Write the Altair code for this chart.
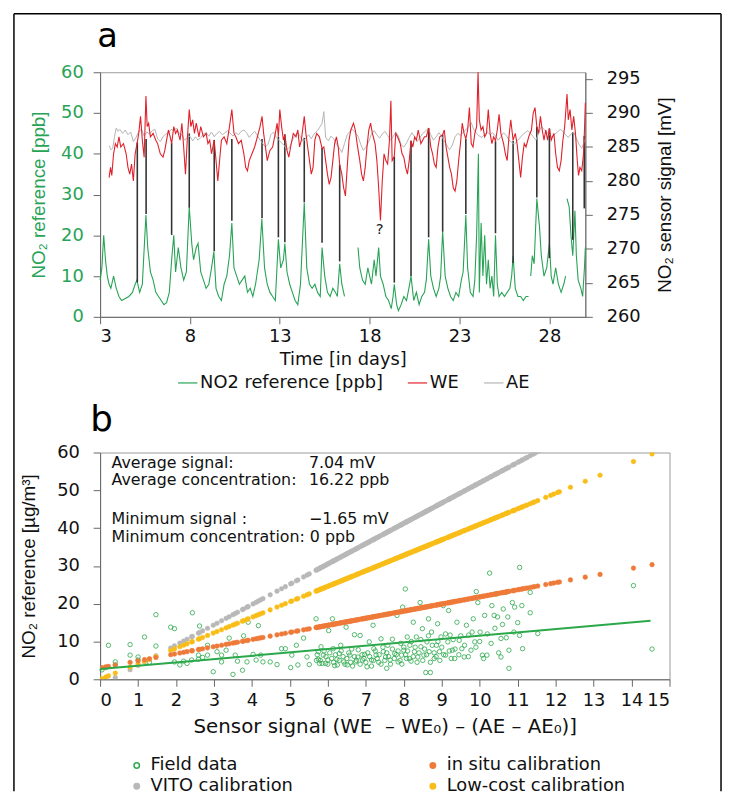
import altair as alt
import pandas as pd

FONT = "DejaVu Sans"
VFONT = "Liberation Sans"
GREEN_A = "#27a356"
RED = "#e0202a"
GRAY_A = "#b4b4b4"
GREEN_B = "#2aa84a"
ORANGE = "#ee7a3a"
YELLOW = "#f9bd19"
GRAY_B = "#b8b8b8"

# ---------------- panel a data ----------------
# (day, ppb); None marks a gap in the reference record
no2_points = [
    (3.0, 9), (3.1, 12), (3.2, 20), (3.3, 14), (3.4, 10), (3.5, 8), (3.6, 7), (3.75, 10), (3.9, 7),
    (4.05, 5), (4.2, 4), (4.4, 4.5), (4.6, 5), (4.8, 6), (4.95, 8), (5.05, 9), (5.2, 6), (5.35, 8),
    (5.55, 25), (5.65, 17), (5.8, 11), (5.95, 9), (6.1, 6), (6.25, 5), (6.4, 4), (6.55, 3), (6.7, 3.5),
    (6.85, 6), (7.0, 15), (7.1, 20), (7.2, 11), (7.35, 17), (7.5, 12), (7.65, 9), (7.8, 11), (7.96, 27),
    (8.1, 18), (8.2, 14), (8.35, 17), (8.45, 18), (8.6, 11), (8.75, 9), (8.9, 7), (9.05, 8), (9.2, 12),
    (9.33, 16), (9.45, 7), (9.6, 5), (9.75, 4), (9.9, 8), (10.05, 10), (10.2, 15), (10.33, 23), (10.45, 12),
    (10.6, 10), (10.75, 8), (10.9, 9), (11.05, 10), (11.2, 6), (11.35, 7), (11.5, 5), (11.65, 8), (11.85, 14),
    (12.0, 24), (12.15, 12), (12.3, 8), (12.45, 6), (12.6, 5), (12.75, 4), (12.92, 19), (13.05, 12),
    (13.2, 14), (13.28, 18), (13.4, 11), (13.55, 8), (13.7, 6), (13.85, 4), (14.0, 3), (14.15, 8),
    (14.36, 28), (14.5, 12), (14.65, 8), (14.8, 7), (14.95, 8), (15.1, 6), (15.25, 5), (15.35, 17),
    (15.5, 10), (15.65, 6), (15.8, 5), (15.95, 7), (16.1, 6), (16.2, 5), (16.33, 13), (16.45, 8), (16.6, 5),
    None,
    (17.35, 17), (17.45, 12), (17.6, 9), (17.75, 8), (17.9, 12), (18.0, 10), (18.1, 8), (18.25, 14),
    (18.35, 10), (18.5, 17), (18.6, 10), (18.75, 8), (18.9, 5), (19.05, 4), (19.2, 2), (19.3, 5),
    (19.37, 8), (19.5, 3), (19.6, 1.5), (19.75, 3), (19.9, 5), (20.05, 4), (20.18, 7), (20.3, 10),
    (20.45, 4), (20.6, 6), (20.75, 3), (20.9, 5), (21.05, 6), (21.15, 9), (21.28, 19), (21.4, 10),
    (21.55, 7), (21.7, 5), (21.85, 7), (21.95, 10), (22.06, 21), (22.2, 10), (22.35, 7), (22.5, 5),
    (22.65, 4), (22.8, 6), (22.95, 5), (23.1, 9), (23.2, 11), (23.35, 25), (23.45, 12), (23.6, 6),
    (23.75, 5), (23.85, 9), (23.95, 20), (24.05, 40), (24.1, 6), (24.2, 23), (24.3, 10), (24.4, 20),
    (24.5, 8), (24.6, 14), (24.7, 7), (24.8, 10), (24.9, 5), (25.0, 20), (25.1, 8), (25.2, 5),
    (25.35, 6), (25.5, 5), (25.65, 6), (25.8, 7), (25.9, 10), (25.98, 15), (26.1, 7), (26.25, 5),
    (26.4, 5), (26.55, 4), (26.7, 5), (26.84, 5),
    None,
    (26.96, 10), (27.05, 15), (27.15, 13), (27.3, 29), (27.45, 22), (27.55, 15), (27.7, 10), (27.85, 12),
    (28.0, 18), (28.1, 10), (28.2, 8), (28.35, 12), (28.5, 8), (28.65, 6), (28.8, 8), (28.9, 10),
    None,
    (28.98, 29), (29.1, 27), (29.2, 20), (29.3, 15), (29.42, 26), (29.5, 15), (29.6, 9), (29.75, 7),
    (29.85, 5), (29.95, 12), (30.0, 17),
]

# (day, mV)
we_points = [
    (3.5, 280.5), (3.58, 282), (3.65, 280.8), (3.75, 284), (3.85, 285.5), (3.95, 285), (4.05, 286.5),
    (4.15, 285), (4.3, 285.5), (4.45, 284), (4.55, 282), (4.65, 281), (4.75, 282.5), (4.85, 280),
    (4.95, 284), (5.07, 285.7), (5.15, 287), (5.25, 289.5), (5.35, 286), (5.45, 283.5), (5.55, 292.5),
    (5.62, 288), (5.7, 288.5), (5.8, 286.5), (5.95, 287), (6.1, 286), (6.2, 285.5), (6.35, 284),
    (6.5, 283.5), (6.6, 284.5), (6.7, 286), (6.8, 287.5), (6.9, 286.5), (6.98, 285.5), (7.1, 288),
    (7.2, 287), (7.3, 287.5), (7.45, 286), (7.55, 288.5), (7.65, 285), (7.75, 281), (7.85, 286),
    (7.96, 290.5), (8.05, 288), (8.15, 289), (8.25, 287), (8.35, 288.5), (8.5, 286.5), (8.6, 288),
    (8.75, 286.5), (8.9, 287), (9.0, 285.5), (9.1, 286), (9.2, 284), (9.35, 286), (9.45, 283),
    (9.55, 280), (9.65, 283), (9.75, 286), (9.9, 286.5), (10.05, 285.5), (10.2, 288), (10.33, 290.5),
    (10.45, 287), (10.55, 286.5), (10.7, 285.5), (10.85, 286), (11.0, 284), (11.1, 282), (11.2, 281.5),
    (11.3, 283), (11.45, 284), (11.6, 285), (11.75, 286.5), (11.9, 288), (12.01, 289.5), (12.1, 287),
    (12.2, 285), (12.3, 283), (12.45, 284.5), (12.6, 285), (12.75, 287), (12.85, 288.5), (12.92, 286.5),
    (13.0, 290.5), (13.1, 288), (13.2, 286), (13.28, 286.8), (13.4, 284.5), (13.5, 283.5), (13.6, 285),
    (13.75, 287), (13.9, 286.5), (14.0, 287.5), (14.1, 285), (14.2, 286), (14.36, 289.5), (14.45, 287),
    (14.55, 285), (14.65, 283), (14.75, 281), (14.85, 282), (14.95, 286), (15.05, 287), (15.2, 286.5),
    (15.35, 284.8), (15.45, 285), (15.55, 283), (15.65, 281), (15.75, 279.5), (15.85, 280.5), (15.95, 283),
    (16.05, 285.5), (16.15, 286.5), (16.25, 285), (16.33, 282.4), (16.45, 281), (16.55, 279), (16.65, 277.8),
    (16.75, 282), (16.85, 286), (16.95, 287.5), (17.1, 288.5), (17.2, 287.5), (17.3, 285.5), (17.45, 283),
    (17.55, 281), (17.65, 280), (17.75, 282), (17.85, 285), (17.95, 287.5), (18.05, 288.5), (18.15, 287),
    (18.3, 285.5), (18.4, 283), (18.5, 279), (18.6, 274.2), (18.7, 280), (18.8, 284), (18.9, 283),
    (19.0, 282.5), (19.1, 286), (19.18, 291.8), (19.25, 283), (19.37, 283.6), (19.45, 287), (19.55, 286.5),
    (19.7, 285.5), (19.8, 284), (19.9, 283.5), (20.0, 282), (20.1, 281), (20.2, 283), (20.3, 285.9),
    (20.4, 285), (20.5, 286.5), (20.6, 286), (20.7, 287.5), (20.85, 285.5), (20.95, 286), (21.05, 286.5),
    (21.15, 286.5), (21.28, 287.8), (21.4, 285), (21.5, 284), (21.6, 282.5), (21.7, 282), (21.8, 285),
    (21.9, 286.5), (22.06, 286.8), (22.15, 287.5), (22.25, 285), (22.35, 283.5), (22.45, 282), (22.55, 281),
    (22.65, 279), (22.75, 278.5), (22.85, 280), (22.95, 283), (23.05, 285.5), (23.15, 288.5), (23.25, 287),
    (23.35, 286.2), (23.45, 287.5), (23.55, 290.8), (23.65, 285.5), (23.75, 285), (23.85, 287), (23.95, 288),
    (24.03, 296), (24.1, 289), (24.2, 287.5), (24.3, 288), (24.4, 286.5), (24.5, 287), (24.6, 290.5),
    (24.7, 287), (24.8, 285.5), (24.9, 286.5), (25.0, 285.9), (25.1, 287.5), (25.2, 289.8), (25.3, 287),
    (25.45, 285.5), (25.55, 284), (25.65, 283), (25.75, 286.5), (25.85, 289), (25.98, 286), (26.1, 287),
    (26.2, 285.5), (26.3, 283), (26.4, 280.5), (26.5, 283.5), (26.6, 285.5), (26.7, 285), (26.85, 286.5),
    (27.0, 287.5), (27.1, 290), (27.2, 290.8), (27.3, 288), (27.4, 287), (27.5, 289.5), (27.6, 287.5),
    (27.7, 286), (27.8, 287.5), (27.9, 286), (28.0, 287.7), (28.1, 286), (28.25, 287), (28.35, 284),
    (28.45, 282), (28.55, 281.5), (28.65, 283), (28.75, 286), (28.85, 288), (28.98, 292.8), (29.05, 289),
    (29.15, 290.5), (29.25, 287.5), (29.35, 289.5), (29.45, 287), (29.55, 283), (29.62, 280.8), (29.7, 282),
    (29.8, 281.5), (29.9, 284), (29.94, 286.6), (30.0, 291.5),
]

ae_points = [
    (3.5, 285.2), (3.6, 284.6), (3.7, 284.8), (3.8, 286.5), (3.9, 287.8), (4.0, 287.3), (4.1, 287.6),
    (4.25, 287.0), (4.4, 287.5), (4.55, 286.8), (4.7, 287.2), (4.85, 285.8), (5.0, 286.4), (5.15, 287.3),
    (5.3, 287.6), (5.45, 286.6), (5.6, 287.2), (5.75, 286.9), (5.9, 287.4), (6.05, 287.6), (6.2, 286.2),
    (6.35, 285.8), (6.5, 286.5), (6.65, 286.9), (6.8, 287.1), (6.95, 287.6), (7.1, 287.4), (7.25, 287.8),
    (7.4, 287.0), (7.55, 286.8), (7.7, 286.0), (7.85, 286.4), (8.0, 286.6), (8.15, 285.9), (8.3, 286.5),
    (8.45, 286.0), (8.6, 286.4), (8.75, 286.9), (8.9, 287.1), (9.05, 286.6), (9.2, 287.2), (9.35, 286.5),
    (9.5, 287.0), (9.65, 287.3), (9.8, 286.8), (9.95, 287.1), (10.1, 287.4), (10.25, 287.0), (10.4, 286.6),
    (10.55, 287.1), (10.7, 286.8), (10.85, 287.3), (11.0, 287.5), (11.15, 287.1), (11.3, 286.4),
    (11.45, 286.9), (11.6, 287.3), (11.75, 286.7), (11.9, 286.0), (12.05, 285.5), (12.2, 285.0),
    (12.35, 285.4), (12.5, 286.8), (12.65, 287.2), (12.8, 286.4), (12.95, 286.0), (13.1, 285.6),
    (13.25, 285.2), (13.4, 284.6), (13.55, 285.0), (13.7, 286.0), (13.85, 286.8), (14.0, 287.1),
    (14.15, 286.5), (14.3, 285.8), (14.45, 286.3), (14.6, 286.8), (14.75, 286.2), (14.9, 286.9),
    (15.05, 287.3), (15.2, 287.8), (15.35, 288.5), (15.45, 290.2), (15.55, 286.4), (15.7, 285.9),
    (15.85, 286.6), (16.0, 286.2), (16.15, 285.4), (16.3, 284.9), (16.45, 284.2), (16.6, 285.5),
    (16.75, 286.8), (16.9, 287.3), (17.05, 287.6), (17.2, 287.1), (17.35, 286.6), (17.5, 285.4),
    (17.65, 284.5), (17.8, 285.0), (17.95, 285.8), (18.1, 286.9), (18.25, 287.4), (18.4, 286.8),
    (18.55, 286.3), (18.7, 286.9), (18.85, 287.3), (19.0, 286.7), (19.15, 286.0), (19.3, 286.5),
    (19.45, 287.2), (19.6, 286.6), (19.75, 285.3), (19.9, 285.0), (20.05, 285.6), (20.2, 286.4),
    (20.35, 287.1), (20.5, 286.5), (20.65, 285.8), (20.8, 286.4), (20.95, 287.0), (21.1, 287.3),
    (21.25, 287.7), (21.4, 286.8), (21.55, 286.0), (21.7, 286.5), (21.85, 287.1), (22.0, 286.6),
    (22.15, 285.9), (22.3, 285.2), (22.45, 284.6), (22.6, 285.3), (22.75, 286.5), (22.9, 287.0),
    (23.05, 286.7), (23.2, 287.2), (23.35, 287.5), (23.5, 288.0), (23.65, 288.6), (23.8, 287.5),
    (23.95, 287.0), (24.1, 286.6), (24.25, 286.4), (24.4, 286.9), (24.55, 287.2), (24.7, 286.8),
    (24.85, 287.1), (25.0, 286.6), (25.15, 286.0), (25.3, 286.5), (25.45, 287.1), (25.6, 286.7),
    (25.75, 286.0), (25.9, 285.7), (26.05, 285.4), (26.2, 285.9), (26.35, 286.3), (26.5, 286.8),
    (26.65, 287.1), (26.8, 287.4), (26.95, 287.0), (27.1, 286.5), (27.25, 286.0), (27.4, 287.0),
    (27.55, 288.0), (27.7, 287.6), (27.85, 287.2), (28.0, 286.8), (28.15, 286.4), (28.3, 286.9),
    (28.45, 287.2), (28.6, 287.6), (28.75, 287.3), (28.9, 286.8), (29.05, 286.4), (29.2, 286.9),
    (29.35, 287.2), (29.5, 286.3), (29.65, 285.4), (29.8, 284.8), (29.9, 285.5), (30.0, 286.2),
]

# black connectors (day, top ppb, bottom ppb)
link_day = [5.07, 5.56, 6.98, 7.96, 9.35, 10.33, 12.01, 12.92, 13.28, 14.36, 15.35, 16.33,
            19.37, 20.3, 21.28, 22.06, 23.35, 25.0, 25.98, 27.3, 28.0, 29.3, 29.94]
link_top = [42.8, 43.6, 42.6, 45.0, 43.4, 43.6, 43.6, 44.2, 44.8, 43.9, 41.4, 37.3,
            39.3, 43.2, 46.3, 44.7, 43.6, 43.1, 43.2, 46.6, 46.2, 45.3, 44.4]
link_bottom = [8.5, 25.2, 20.1, 26.8, 16.1, 23.6, 24.2, 19.5, 18.3, 28.1, 18.2, 13.6,
               8.4, 10.0, 19.5, 20.9, 25.2, 20.5, 13.2, 29.3, 14.4, 18.9, 26.6]

series_a = ["NO2 reference [ppb]", "WE", "AE"]
colors_a = [GREEN_A, RED, GRAY_A]

# ---------------- panel b data ----------------
field_points = [
    (0.05, 2.5), (0.15, 3.1), (0.22, 9.0), (0.4, 4.6), (0.4, 3.8), (0.79, 9.2), (0.79, 6.4), (1.0, 5.9),
    (1.0, 5.1), (1.17, 11.2), (1.3, 4.5), (1.47, 17.1), (1.47, 8.8), (1.86, 13.8), (1.96, 13.4), (1.96, 4.6),
    (2.1, 3.8), (2.2, 4.8), (2.29, 4.2), (2.41, 5.1), (2.43, 17.6), (2.59, 6.4), (2.59, 5.3), (2.62, 14.1),
    (2.7, 5.8), (2.83, 9.0), (2.83, 6.4), (2.98, 2.0), (3.08, 7.3), (3.2, 6.4), (3.2, 4.6), (3.32, 7.7),
    (3.4, 10.9), (3.5, 1.3), (3.56, 6.4), (3.62, 4.8), (3.75, 2.4), (3.78, 11.5), (3.9, 15.1), (3.87, 4.6),
    (4.03, 6.6), (4.11, 5.1), (4.17, 14.2), (4.23, 6.4), (4.29, 4.6), (4.48, 4.6), (4.66, 3.9), (4.78, 8.1),
    (4.88, 8.1), (5.02, 3.1), (5.05, 6.4), (5.17, 9.0), (5.21, 3.8), (5.36, 10.9), (5.45, 5.9), (5.51, 3.9),
    (5.69, 16.0), (5.75, 7.3), (5.75, 5.3), (5.82, 8.6), (5.88, 6.4), (5.94, 4.2), (6.0, 5.1), (6.02, 12.9),
    (6.12, 16.0), (6.14, 8.1), (6.18, 3.6), (6.24, 5.3), (6.3, 6.8), (6.34, 9.0), (6.42, 4.6), (6.48, 13.8),
    (6.51, 3.8), (6.58, 6.4), (6.63, 8.0), (6.7, 11.8), (6.73, 4.6), (6.79, 5.9), (6.85, 11.6), (6.91, 5.1),
    (6.97, 6.6), (7.03, 3.3), (7.09, 9.9), (7.15, 5.1), (7.19, 14.3), (7.21, 8.1), (7.27, 6.4), (7.34, 4.5),
    (7.4, 10.7), (7.46, 7.3), (7.52, 5.9), (7.55, 2.9), (7.58, 9.0), (7.64, 5.1), (7.7, 10.6), (7.76, 6.8),
    (7.82, 16.9), (7.85, 4.6), (7.92, 9.5), (7.94, 6.4), (7.97, 19.1), (8.0, 7.7), (8.04, 23.9), (8.07, 5.5),
    (8.09, 11.2), (8.16, 9.0), (8.19, 4.8), (8.25, 15.1), (8.28, 7.3), (8.33, 11.2), (8.37, 5.9), (8.43, 20.3),
    (8.45, 8.6), (8.49, 13.4), (8.53, 6.4), (8.58, 1.8), (8.61, 9.9), (8.65, 16.0), (8.67, 7.3), (8.7, 1.8),
    (8.73, 12.5), (8.8, 5.5), (8.86, 9.0), (8.89, 14.7), (8.94, 7.3), (8.98, 11.2), (9.04, 19.5), (9.1, 6.4),
    (9.16, 9.9), (9.18, 18.2), (9.22, 11.7), (9.28, 7.7), (9.34, 5.5), (9.4, 15.1), (9.46, 10.3), (9.53, 8.1),
    (9.59, 5.9), (9.65, 14.3), (9.71, 11.7), (9.77, 7.7), (9.83, 16.0), (9.87, 9.9), (9.91, 23.2), (9.95, 20.3),
    (10.01, 12.5), (10.07, 6.4), (10.13, 16.9), (10.19, 6.4), (10.26, 28.1), (10.32, 19.5), (10.38, 16.9),
    (10.44, 22.6), (10.47, 16.5), (10.56, 10.8), (10.56, 5.9), (10.62, 18.6), (10.68, 23.0), (10.74, 16.5),
    (10.77, 7.7), (10.77, 2.9), (10.86, 20.3), (10.92, 19.1), (11.05, 29.6), (11.05, 11.6), (11.11, 19.5),
    (11.13, 8.1), (11.33, 23.0), (11.33, 17.6), (11.53, 12.1), (14.05, 24.8), (14.54, 8.0),
    (5.7, 5.0), (5.72, 6.5), (5.78, 4.2), (5.8, 5.0), (5.85, 4.2), (5.9, 7.5), (5.95, 6.0), (6.0, 4.0),
    (6.05, 7.0), (6.1, 5.5), (6.15, 4.5), (6.2, 6.5), (6.25, 3.8), (6.3, 5.0), (6.35, 7.5), (6.4, 6.0),
    (6.45, 4.0), (6.5, 5.5), (6.55, 7.0), (6.6, 4.5), (6.65, 3.5), (6.7, 6.0), (6.75, 5.0), (6.8, 7.8),
    (6.85, 4.0), (6.9, 6.5), (6.95, 5.5), (7.0, 4.5), (7.05, 7.0), (7.1, 6.0), (7.15, 3.5), (7.2, 5.0),
    (7.25, 7.5), (7.3, 5.5), (7.35, 6.5), (7.4, 4.0), (7.45, 8.5), (7.5, 5.0), (7.55, 7.0), (7.6, 6.0),
    (7.65, 4.0), (7.7, 8.0), (7.75, 5.5), (7.8, 6.5), (7.85, 7.5), (7.9, 5.0), (7.95, 4.0), (8.0, 8.5),
    (8.05, 6.5), (8.1, 7.5), (8.15, 5.5), (8.2, 10.0), (8.25, 6.0), (8.3, 8.5), (8.35, 4.5), (8.4, 7.0),
    (8.45, 10.5), (8.5, 5.0), (8.55, 8.0), (8.6, 6.5), (8.65, 11.5), (8.7, 4.5), (8.75, 9.0), (8.8, 7.0),
    (8.85, 6.0), (8.9, 10.0), (8.95, 5.0), (9.0, 8.5), (9.05, 6.5), (9.1, 12.0), (9.2, 7.5), (9.25, 5.5),
    (9.3, 10.5), (9.35, 8.0), (9.45, 6.5), (9.5, 11.5), (9.6, 9.0), (9.7, 6.0), (9.8, 12.5), (9.9, 8.5),
    (10.0, 10.0), (10.1, 5.5), (10.2, 12.0), (10.3, 9.5), (10.4, 13.5), (10.5, 7.0), (10.6, 14.5),
    (10.7, 11.0), (10.9, 12.5), (11.0, 15.0),
]
# sensor signals whose reference value lies off the plotted field-data range
extra_signal = [11.2, 11.25, 11.4, 11.45, 11.74, 11.87, 11.95, 12.05, 12.1, 12.39, 12.78, 13.17]

# calibration lines: (intercept, slope)
calibrations = {
    "VITO calibration": (-1.7, 5.37),
    "Low-cost calibration": (0.0, 4.1),
    "in situ calibration": (3.0, 1.88),
}
fit_signal = [0.0, 14.5]
fit_ref = [2.7, 15.5]

# legend entries fill column by column: (Field data, VITO) | (in situ, Low-cost)
series_b = ["Field data", "VITO calibration", "in situ calibration", "Low-cost calibration"]
stroke_b = [GREEN_B, GRAY_B, ORANGE, YELLOW]
fill_b = ["transparent", GRAY_B, ORANGE, YELLOW]

notes_text = ["Average signal:", "7.04 mV", "Average concentration:", "16.22 ppb",
              "Minimum signal :", "\u22121.65 mV", "Minimum concentration: 0 ppb"]
notes_x = [0.3, 5.5, 0.3, 5.5, 0.3, 5.5, 0.3]
notes_y = [57.2, 57.2, 52.6, 52.6, 42.4, 42.4, 37.6]

# ---------------- build tables ----------------
rows, seg = [], 0
for p in no2_points:
    if p is None:
        seg += 1
        continue
    rows.append({"day": p[0], "ppb": p[1], "seg": seg, "series": series_a[0]})
df_no2 = pd.DataFrame(rows)
df_we = pd.DataFrame([{"day": d, "mv": v, "series": "WE"} for d, v in we_points])
df_ae = pd.DataFrame([{"day": d, "mv": v, "series": "AE"} for d, v in ae_points])
df_link = pd.DataFrame({"day": link_day, "top": link_top, "bottom": link_bottom})
df_q = pd.DataFrame({"day": [18.55], "ppb": [21.5], "label": ["?"]})
one = pd.DataFrame({"k": [0]})

x_a = alt.X("day:Q", scale=alt.Scale(domain=[3, 30], nice=False, zero=False),
            axis=alt.Axis(values=[3, 8, 13, 18, 23, 28], title="Time [in days]",
                          labelPadding=4, titlePadding=5))
y_left_axis = alt.Axis(values=[0, 10, 20, 30, 40, 50, 60], title="NO\u2082 reference [ppb]",
                       orient="left", labelColor=GREEN_A, titleColor=GREEN_A, titleFont=VFONT,
                       titleFontSize=19, labelPadding=10, titlePadding=12)
y_left_scale = alt.Scale(domain=[0, 60], nice=False)
y_right = alt.Y("mv:Q", scale=alt.Scale(domain=[260, 296], nice=False, zero=False),
                axis=alt.Axis(values=[260, 265, 270, 275, 280, 285, 290, 295],
                              title="NO\u2082 sensor signal [mV]", orient="right", titleFont=VFONT,
                              titleFontSize=19, titleAngle=270, titleBaseline="top",
                              labelPadding=14, titlePadding=16))
legend_a = alt.Legend(orient="none", legendX=78, legendY=303, direction="horizontal", title=None,
                      symbolType="stroke", symbolSize=380, symbolStrokeWidth=1.2, labelFontSize=18,
                      labelOffset=2, columnPadding=22, padding=0, labelLimit=400)
color_a = alt.Color("series:N", scale=alt.Scale(domain=series_a, range=colors_a), legend=legend_a)

no2_line = alt.Chart(df_no2).mark_line(strokeWidth=1.1).encode(
    x=x_a, y=alt.Y("ppb:Q", scale=y_left_scale, axis=y_left_axis), color=color_a, detail="seg:N")
links = alt.Chart(df_link).mark_rule(color="#333333", strokeWidth=1.6).encode(
    x=x_a, y=alt.Y("top:Q", scale=y_left_scale, axis=y_left_axis), y2="bottom:Q")
qmark = alt.Chart(df_q).mark_text(fontSize=15, font=FONT, color="#222").encode(
    x=x_a, y=alt.Y("ppb:Q", scale=y_left_scale, axis=y_left_axis), text="label:N")
left_group = alt.layer(no2_line, links, qmark)

ae_line = alt.Chart(df_ae).mark_line(strokeWidth=1.0).encode(x=x_a, y=y_right, color=color_a)
we_line = alt.Chart(df_we).mark_line(strokeWidth=1.1).encode(x=x_a, y=y_right, color=color_a)
right_group = alt.layer(ae_line, we_line)

frame_style = dict(color="black", strokeWidth=1.5)
frame_left = alt.Chart(one).mark_rule(**frame_style).encode(
    x=alt.value(-87), y=alt.value(-59), y2=alt.value(726))
frame_right = alt.Chart(one).mark_rule(**frame_style).encode(
    x=alt.value(627), y=alt.value(-59), y2=alt.value(726))
frame_top = alt.Chart(one).mark_rule(**frame_style).encode(
    x=alt.value(-87), x2=alt.value(627), y=alt.value(-59))
label_a = alt.Chart(one).mark_text(fontSize=34, font=FONT, align="left", baseline="alphabetic").encode(
    x=alt.value(-3), y=alt.value(-25), text=alt.value("a"))

panel_a = alt.layer(left_group, right_group, frame_left, frame_right, frame_top, label_a).resolve_scale(
    y="independent").properties(width=490, height=247)

# panel b tables
df_field = pd.DataFrame([{"signal": x, "ref": y, "series": "Field data"} for x, y in field_points])
cal_x = sorted(set([p[0] for p in field_points] + extra_signal))
cal_rows = []
for name in ["VITO calibration", "Low-cost calibration", "in situ calibration"]:
    a0, b1 = calibrations[name]
    for xv in cal_x:
        cal_rows.append({"signal": xv, "ref": a0 + b1 * xv, "series": name})
df_cal = pd.DataFrame(cal_rows)
df_fit = pd.DataFrame({"signal": fit_signal, "ref": fit_ref})
df_notes = pd.DataFrame({"signal": notes_x, "ref": notes_y, "text": notes_text})

x_b = alt.X("signal:Q", scale=alt.Scale(domain=[0, 15], nice=False),
            axis=alt.Axis(values=list(range(16)),
                          title="Sensor signal (WE\u00a0\u00a0\u2013 WE\u2080) \u2013 (AE \u2013 AE\u2080)]",
                          titleFontSize=20, labelPadding=5, titlePadding=8))
y_b = alt.Y("ref:Q", scale=alt.Scale(domain=[0, 60], nice=False),
            axis=alt.Axis(values=[0, 10, 20, 30, 40, 50, 60], title="NO\u2082 reference [\u00b5g/m\u00b3]",
                          titleFont=VFONT, titleFontSize=19, labelPadding=14, titlePadding=18))
# legends of concatenated views are positioned from the top-left of the whole layout
legend_b = alt.Legend(orient="none", legendX=28, legendY=691, columns=2, title=None, symbolType="circle",
                      symbolSize=30, labelFontSize=18, labelOffset=5, columnPadding=132, rowPadding=3,
                      padding=0, labelLimit=400)
stroke_enc = alt.Stroke("series:N", scale=alt.Scale(domain=series_b, range=stroke_b), legend=legend_b)
fill_enc = alt.Fill("series:N", scale=alt.Scale(domain=series_b, range=fill_b), legend=legend_b)

field = alt.Chart(df_field).mark_point(shape="circle", size=20, strokeWidth=0.8, opacity=1).encode(
    x=x_b, y=y_b, stroke=stroke_enc, fill=fill_enc)
cal = alt.Chart(df_cal).mark_point(shape="circle", size=22, strokeWidth=0.5, opacity=1, clip=True).encode(
    x=x_b, y=y_b, stroke=stroke_enc, fill=fill_enc)
fit = alt.Chart(df_fit).mark_line(color=GREEN_B, strokeWidth=2).encode(x=x_b, y=y_b)
notes = alt.Chart(df_notes).mark_text(align="left", baseline="middle", fontSize=16, font=FONT,
                                      color="#111").encode(x=x_b, y=y_b, text="text:N")
label_b = alt.Chart(one).mark_text(fontSize=36, font=FONT, align="left", baseline="alphabetic").encode(
    x=alt.value(-10), y=alt.value(-22), text=alt.value("b"))

panel_b = alt.layer(field, cal, fit, notes, label_b).properties(width=575, height=229)

chart = alt.vconcat(panel_a, panel_b, spacing=137, bounds="flush").properties(
    padding={"left": 4, "top": 0, "right": 0, "bottom": 0}
).configure(font=FONT).configure_axis(
    labelFont=FONT, titleFont=FONT, labelFontSize=18, titleFontSize=18, titleFontWeight="normal",
    labelColor="#111", titleColor="#111", domainColor="#666", tickColor="#666", tickSize=7,
    grid=False, labelOverlap=False,
).configure_legend(labelFont=FONT, labelColor="#111").configure_view(stroke="#9a9a9a", strokeWidth=1)

chart.save("out.html", embed_options={"renderer": "svg", "actions": False})
